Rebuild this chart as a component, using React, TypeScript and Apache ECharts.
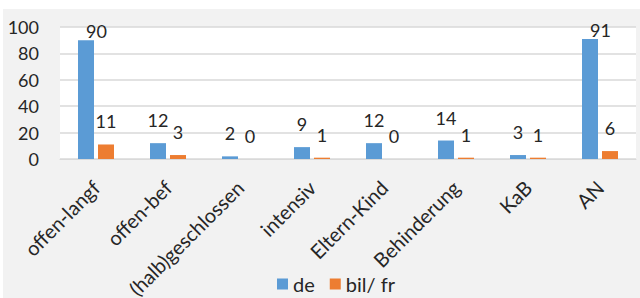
import React, { useEffect, useRef } from "react";
import * as echarts from "echarts";

const categories = ["offen-langf", "offen-bef", "(halb)geschlossen", "intensiv", "Eltern-Kind", "Behinderung", "KaB", "AN"];
const deValues = [90, 12, 2, 9, 12, 14, 3, 91];
const bilValues = [11, 3, 0, 1, 0, 1, 1, 6];
const seriesNames = ["de", "bil/ fr"];
const yTicks = { min: 0, max: 100, interval: 20 };

const FONT = "Lato";
const TXT = "#262626";

export default function App() {
  const ref = useRef<HTMLDivElement>(null);
  useEffect(() => {
    const chart = echarts.init(ref.current!, null, { renderer: "svg" });
    const labelLayout = (p: any) => {
      if (p.labelRect.y < 22) {
        return { y: p.rect.y - p.labelRect.height };
      }
      return {};
    };
    chart.setOption({
      animation: false,
      backgroundColor: "#ffffff",
      graphic: [
        { type: "rect", left: 3, top: 9, shape: { width: 637, height: 289 }, style: { fill: "#f2f2f2" }, z: -10 },
        { type: "rect", left: 60, top: 27, shape: { width: 576, height: 132 }, style: { fill: "#ffffff" }, z: -9 },
      ],
      grid: { left: 60, right: 4, top: 27, bottom: 139, containLabel: false, outerBoundsMode: "none" },
      legend: {
        data: seriesNames,
        left: 272,
        top: 269,
        itemWidth: 11,
        itemHeight: 11,
        itemGap: 15,
        icon: "rect",
        textStyle: { fontFamily: FONT, fontSize: 20, color: TXT },
      },
      xAxis: {
        type: "category",
        data: categories,
        axisLine: { lineStyle: { color: "#d9d9d9", width: 1 } },
        axisTick: { show: false },
        axisLabel: { interval: 0, rotate: 45, margin: 25, fontFamily: FONT, fontSize: 20, color: TXT },
      },
      yAxis: {
        type: "value",
        min: yTicks.min,
        max: yTicks.max,
        interval: yTicks.interval,
        axisLine: { show: false },
        axisTick: { show: false },
        splitLine: { lineStyle: { color: "#d9d9d9", width: 1.5 } },
        axisLabel: { margin: 21, fontFamily: FONT, fontSize: 18, color: TXT },
      },
      series: [
        {
          name: seriesNames[0],
          type: "bar",
          data: deValues,
          barWidth: 16,
          barGap: "25%",
          itemStyle: { color: "#5B9BD5" },
          label: { show: true, position: "top", distance: 14, fontFamily: FONT, fontSize: 18, color: TXT },
          labelLayout,
        },
        {
          name: seriesNames[1],
          type: "bar",
          data: bilValues,
          barWidth: 16,
          barGap: "25%",
          itemStyle: { color: "#ED7D31" },
          label: { show: true, position: "top", distance: 14, fontFamily: FONT, fontSize: 18, color: TXT },
          labelLayout,
        },
      ],
    });
    return () => chart.dispose();
  }, []);
  return <div ref={ref} style={{ position: "fixed", left: 0, top: 0, width: 640, height: 298 }} />;
}
